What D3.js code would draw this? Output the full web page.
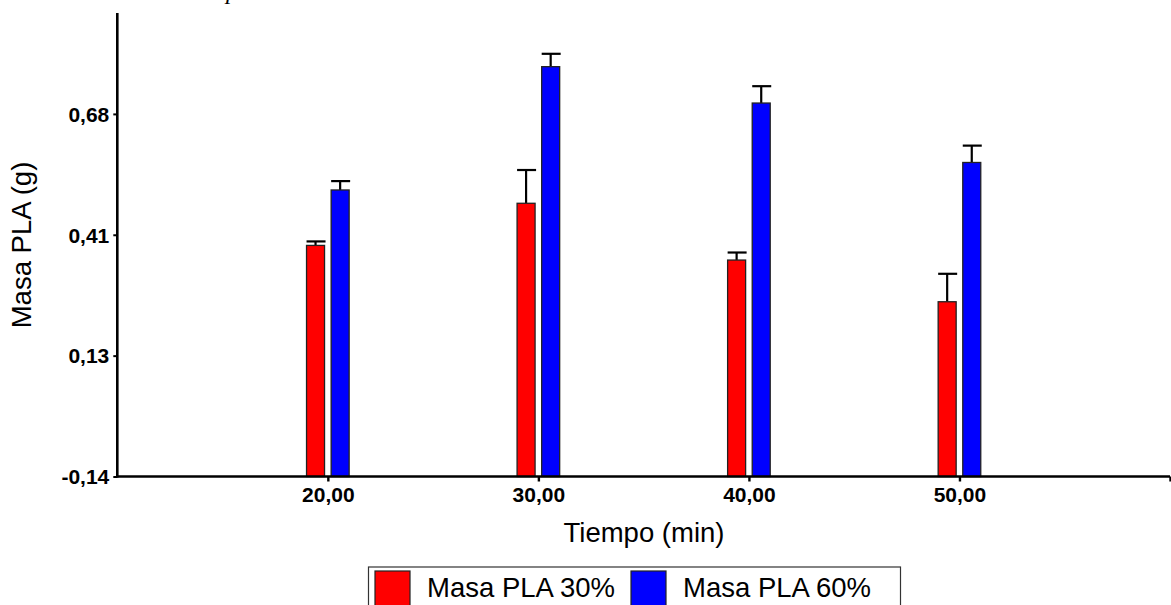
<!DOCTYPE html>
<html>
<head>
<meta charset="utf-8">
<script src="https://cdn.jsdelivr.net/npm/d3@7"></script>
<style>
  html, body { margin: 0; padding: 0; background: #fff; overflow: hidden; }
  svg { display: block; }
  text { font-family: "Liberation Sans", Arial, sans-serif; fill: #000; }
</style>
</head>
<body>
<div id="chart"></div>
<script>
const tiempos = [20, 30, 40, 50];
const series = ['Masa PLA 30%', 'Masa PLA 60%'];
const masa30 = [0.381, 0.476, 0.348, 0.254];
const masa60 = [0.506, 0.784, 0.702, 0.568];
const err30 = [0.009, 0.075, 0.017, 0.063];
const err60 = [0.020, 0.029, 0.038, 0.038];
const colors = ['#ff0000', '#0000ff'];
const yTickValues = [-0.14, 0.1325, 0.405, 0.6775];
const yTickLabels = ['-0,14', '0,13', '0,41', '0,68'];
const xTickValues = [20, 30, 40, 50, 60];
const xTickLabels = ['20,00', '30,00', '40,00', '50,00', ''];

const width = 1171, height = 605;
const svg = d3.select('#chart').append('svg')
    .attr('width', width)
    .attr('height', height);

const x = d3.scaleLinear().domain([10, 60]).range([117.3, 1170]);
const y = d3.scaleLinear().domain([-0.14, 0.905]).range([476.5, 13]);

const barW = 18;
const gap = 3.3;

// leftover caption letter at the very top (cut off in the source too)
svg.append('text')
    .attr('x', 226)
    .attr('y', -1)
    .style('font-family', '"Liberation Serif", "Times New Roman", serif')
    .style('font-style', 'italic')
    .style('font-size', '24px')
    .text('p');

// bars
const rows = tiempos.map((t, i) => ({ t, vals: [masa30[i], masa60[i]], errs: [err30[i], err60[i]] }));
const marks = [];
rows.forEach((r) => {
    r.vals.forEach((v, s) => marks.push({ t: r.t, v, e: r.errs[s], s }));
});
const barX = (d) => (d.s === 0 ? x(d.t) - gap - barW : x(d.t) + gap);

// error bars
const eb = svg.append('g').attr('stroke', '#000').attr('stroke-width', 2.2);
eb.selectAll('.stem')
    .data(marks)
    .enter()
    .append('line')
    .attr('x1', (d) => barX(d) + barW / 2)
    .attr('x2', (d) => barX(d) + barW / 2)
    .attr('y1', (d) => y(d.v))
    .attr('y2', (d) => y(d.v + d.e));
eb.selectAll('.cap')
    .data(marks)
    .enter()
    .append('line')
    .attr('x1', (d) => barX(d))
    .attr('x2', (d) => barX(d) + barW + 1)
    .attr('y1', (d) => y(d.v + d.e))
    .attr('y2', (d) => y(d.v + d.e));

svg.append('g')
    .selectAll('rect')
    .data(marks)
    .enter()
    .append('rect')
    .attr('x', (d) => barX(d))
    .attr('y', (d) => y(d.v))
    .attr('width', barW)
    .attr('height', (d) => y(-0.14) - y(d.v))
    .attr('fill', (d) => colors[d.s])
    .attr('stroke', '#222')
    .attr('stroke-width', 1.3);

// y axis
const yAxis = svg.append('g')
    .attr('transform', `translate(${x(10)},0)`)
    .call(d3.axisLeft(y)
        .tickValues(yTickValues)
        .tickSize(4)
        .tickPadding(4)
        .tickFormat((d, i) => yTickLabels[i]));
yAxis.select('.domain').attr('stroke', '#000').attr('stroke-width', 2.6)
    .attr('d', `M0,${y.range()[1]}V${y.range()[0] + 1}`);
yAxis.selectAll('.tick line').attr('stroke', '#000').attr('stroke-width', 2);
yAxis.selectAll('.tick text')
    .style('font-size', '21px')
    .style('font-weight', 'bold')
    .attr('dy', '0.35em');

// x axis
const xAxis = svg.append('g')
    .attr('transform', `translate(0,${y(-0.14)})`)
    .call(d3.axisBottom(x)
        .tickValues(xTickValues)
        .tickSize(5)
        .tickPadding(6)
        .tickFormat((d, i) => xTickLabels[i]));
xAxis.select('.domain').attr('stroke', '#000').attr('stroke-width', 2.6)
    .attr('d', `M${x.range()[0] - 1},0H${x.range()[1]}`);
xAxis.selectAll('.tick line').attr('stroke', '#000').attr('stroke-width', 2.4);
xAxis.selectAll('.tick text')
    .style('font-size', '21px')
    .style('font-weight', 'bold');

// axis titles
svg.append('text')
    .attr('transform', 'translate(31,245) rotate(-90)')
    .attr('text-anchor', 'middle')
    .style('font-size', '27.5px')
    .text('Masa PLA (g)');

svg.append('text')
    .attr('x', 644)
    .attr('y', 542)
    .attr('text-anchor', 'middle')
    .style('font-size', '27.5px')
    .text('Tiempo (min)');

// legend
const legend = svg.append('g');
legend.append('rect')
    .attr('x', 368.5)
    .attr('y', 567)
    .attr('width', 532)
    .attr('height', 60)
    .attr('fill', '#fff')
    .attr('stroke', '#333')
    .attr('stroke-width', 1.2);
const legendX = [375, 631];
series.forEach((name, i) => {
    legend.append('rect')
        .attr('x', legendX[i])
        .attr('y', 571)
        .attr('width', 35)
        .attr('height', 50)
        .attr('fill', colors[i])
        .attr('stroke', '#222')
        .attr('stroke-width', 1.2);
    legend.append('text')
        .attr('x', legendX[i] + 52)
        .attr('y', 597)
        .style('font-size', '27.5px')
        .text(name);
});
</script>
</body>
</html>
